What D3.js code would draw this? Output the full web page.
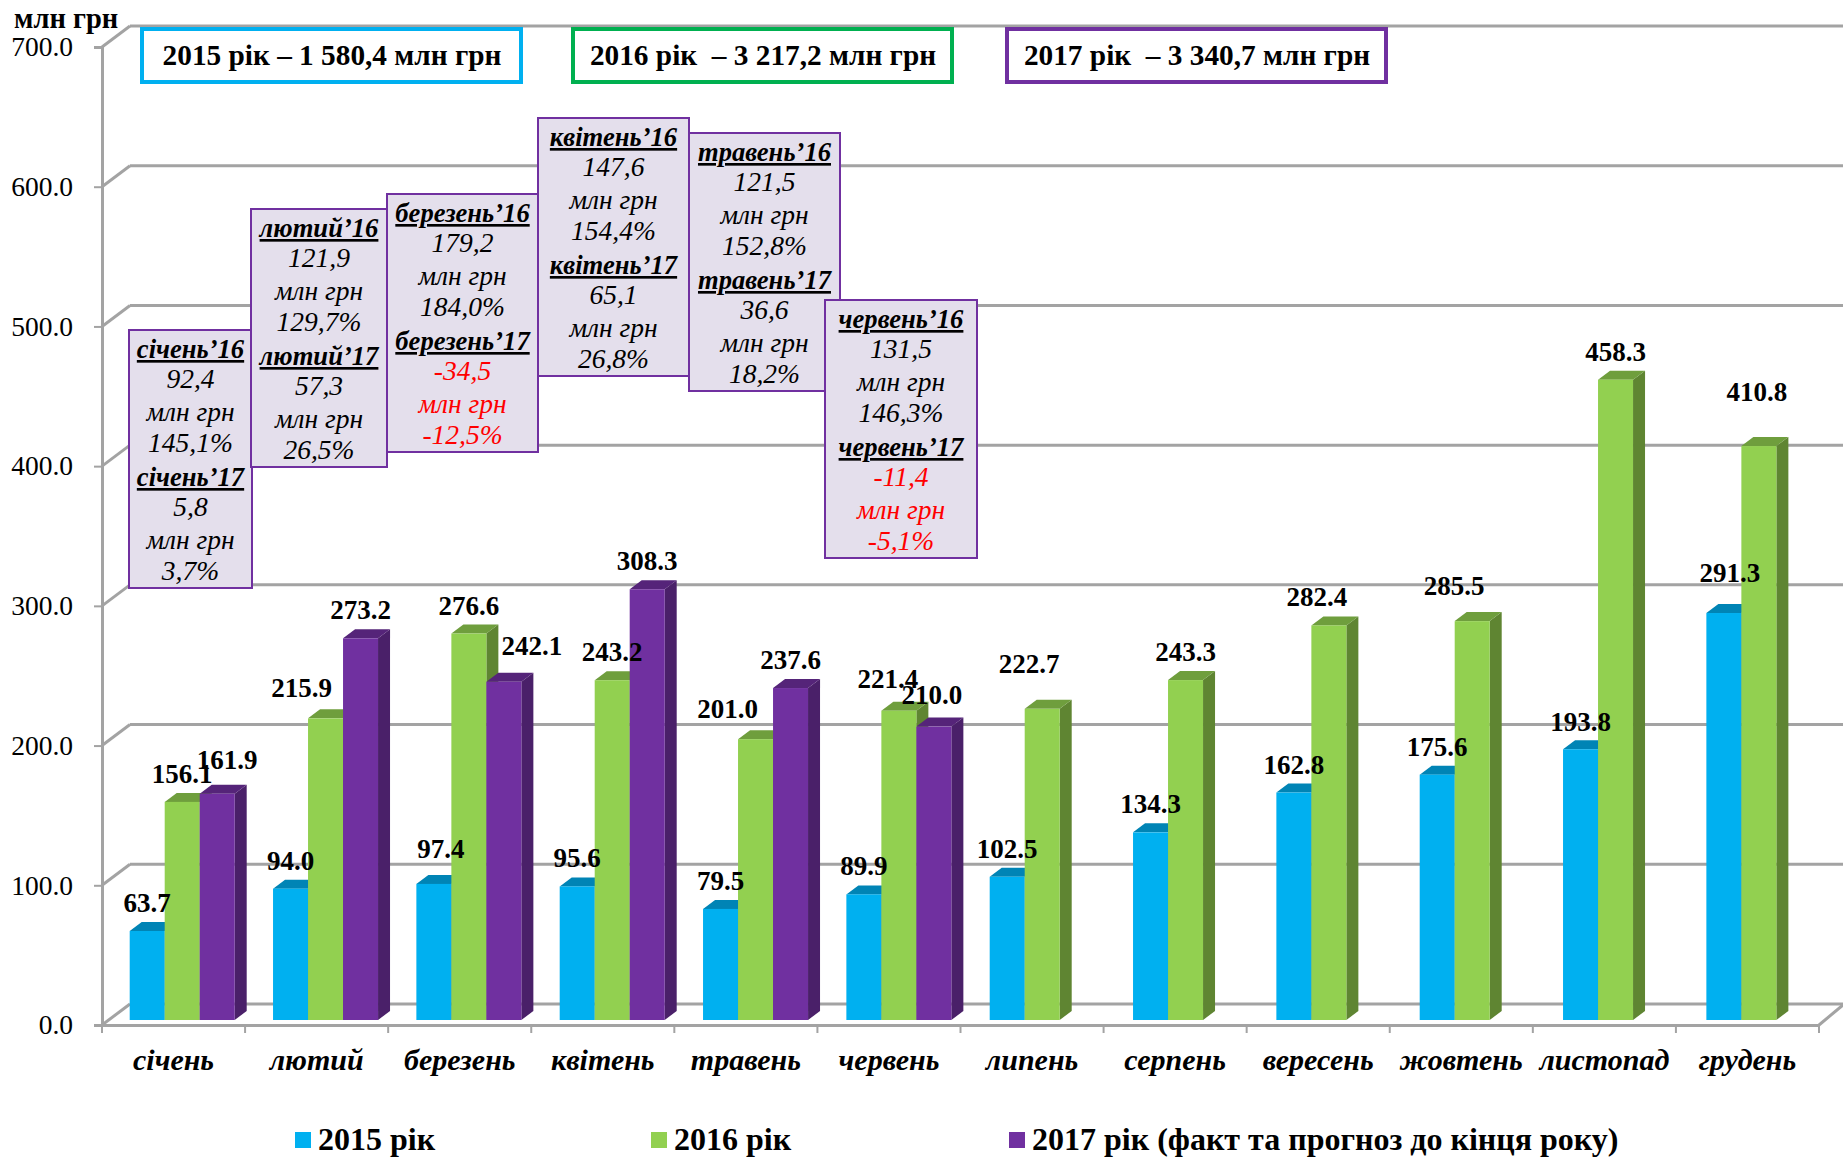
<!DOCTYPE html>
<html>
<head>
<meta charset="utf-8">
<style>
  html, body { margin: 0; background: #fff; }
  svg { display: block; font-family: "Liberation Serif", serif; }
  .grid { stroke: #a3a3a3; stroke-width: 3; fill: none; }
  .axis-label text { fill: #000; }
</style>
<script src="https://cdnjs.cloudflare.com/ajax/libs/d3/7.8.5/d3.min.js"></script>
</head>
<body>
<svg width="1843" height="1157"></svg>
<script>
const months = ['січень', 'лютий', 'березень', 'квітень', 'травень', 'червень', 'липень', 'серпень', 'вересень', 'жовтень', 'листопад', 'грудень'];
const seriesNames = ['2015 рік', '2016 рік', '2017 рік (факт та прогноз до кінця року)'];
const values2015 = [63.7, 94.0, 97.4, 95.6, 79.5, 89.9, 102.5, 134.3, 162.8, 175.6, 193.8, 291.3];
const values2016 = [156.1, 215.9, 276.6, 243.2, 201.0, 221.4, 222.7, 243.3, 282.4, 285.5, 458.3, 410.8];
const values2017 = [161.9, 273.2, 242.1, 308.3, 237.6, 210.0, null, null, null, null, null, null];
const yTicks = [0, 100, 200, 300, 400, 500, 600, 700];
const totals = ['2015 рік – 1 580,4 млн грн', '2016 рік  – 3 217,2 млн грн', '2017 рік  – 3 340,7 млн грн'];
const noteHeads = ['січень', 'лютий', 'березень', 'квітень', 'травень', 'червень'];
const noteAmount16 = ['92,4', '121,9', '179,2', '147,6', '121,5', '131,5'];
const notePct16 = ['145,1%', '129,7%', '184,0%', '154,4%', '152,8%', '146,3%'];
const noteAmount17 = ['5,8', '57,3', '-34,5', '65,1', '36,6', '-11,4'];
const notePct17 = ['3,7%', '26,5%', '-12,5%', '26,8%', '18,2%', '-5,1%'];

const svg = d3.select('svg');

const colors = [
  {front: '#00b0f0', top: '#0084b5', side: '#00698f'},
  {front: '#92d050', top: '#6f9e3d', side: '#5f8532'},
  {front: '#7030a0', top: '#552479', side: '#4a2069'}
];

// the 3d box: back wall sits up and to the right of the front plane
const depth = {x: 28, y: 21};
const barDepth = {x: 12, y: 9};
const barLift = 5;
const left = 102, right = 1819;

const y = d3.scaleLinear().domain([0, 700]).range([1025, 47]);
const x0 = d3.scaleBand().domain(months).range([left, right]);
// bars run on a slightly wider step than the axis ticks
const xBars = d3.scaleBand().domain(months).range([left - 0.3, right + 2.7]);
const x1 = d3.scaleBand().domain(d3.range(3)).range([28, 133]);

// walls
const grid = svg.append('g');
grid.selectAll('line.wall').data(yTicks).join('line')
  .attr('class', 'grid wall')
  .attr('x1', left + depth.x).attr('x2', 1843)
  .attr('y1', d => y(d) - depth.y).attr('y2', d => y(d) - depth.y);
grid.selectAll('line.slant').data(yTicks).join('line')
  .attr('class', 'grid slant')
  .attr('x1', left).attr('x2', left + depth.x)
  .attr('y1', d => y(d)).attr('y2', d => y(d) - depth.y);
grid.append('line').attr('class', 'grid')
  .attr('x1', right).attr('x2', right + 24)
  .attr('y1', y(0)).attr('y2', y(0) - 20);

// axes
const yAxis = d3.axisLeft(y).tickValues(yTicks).tickFormat(d3.format('.1f'))
  .tickSize(8).tickPadding(21);
const yAxisG = svg.append('g')
  .attr('transform', `translate(${left},0)`)
  .call(yAxis);
yAxisG.select('.domain').attr('stroke', '#a3a3a3').attr('stroke-width', 3);
yAxisG.selectAll('.tick line').attr('stroke', '#a3a3a3').attr('stroke-width', 2);
yAxisG.selectAll('text').attr('font-size', 27.5).attr('font-family', '"Liberation Serif", serif').attr('fill', '#000');

const xAxisG = svg.append('g')
  .attr('transform', `translate(0,${y(0)})`)
  .call(d3.axisBottom(x0).tickSize(0).tickPadding(24));
xAxisG.select('.domain').attr('stroke', '#a3a3a3').attr('stroke-width', 3);
xAxisG.selectAll('text')
  .attr('font-size', 30).attr('font-weight', 'bold').attr('font-style', 'italic')
  .attr('font-family', '"Liberation Serif", serif').attr('fill', '#000');
xAxisG.selectAll('line.edge').data(d3.range(13)).join('line')
  .attr('class', 'edge')
  .attr('x1', i => left + i * x0.step()).attr('x2', i => left + i * x0.step())
  .attr('y1', 0).attr('y2', 8)
  .attr('stroke', '#a3a3a3').attr('stroke-width', 2);

// bars
const allValues = [values2015, values2016, values2017];
const points = (x, yy, w, part) => {
  if (part === 'top') {
    return [[x, yy], [x + barDepth.x, yy - barDepth.y], [x + w + barDepth.x, yy - barDepth.y], [x + w, yy]];
  }
  const base = y(0) - barLift;
  return [[x + w, yy], [x + w + barDepth.x, yy - barDepth.y], [x + w + barDepth.x, base - barDepth.y], [x + w, base]];
};

const barsG = svg.append('g');
months.forEach((m, mi) => {
  const groupG = barsG.append('g').attr('transform', `translate(${xBars(m)},0)`);
  const row = allValues.map((vals, si) => ({si, v: vals[mi]})).filter(d => d.v !== null);
  row.forEach(d => {
    const bx = x1(d.si), bw = x1.bandwidth(), by = y(d.v) - barLift;
    const c = colors[d.si];
    groupG.append('polygon').attr('points', points(bx, by, bw, 'side').join(' ')).attr('fill', c.side);
    groupG.append('polygon').attr('points', points(bx, by, bw, 'top').join(' ')).attr('fill', c.top);
    groupG.append('rect')
      .attr('x', bx).attr('y', by)
      .attr('width', bw).attr('height', y(0) - barLift - by)
      .attr('fill', c.front);
  });
});

// total boxes
const totalBoxX = [142, 573, 1007];
const totalBoxColor = ['#00b0f0', '#00b050', '#7030a0'];
const totalsG = svg.selectAll('g.total').data(totals).join('g')
  .attr('class', 'total')
  .attr('transform', (d, i) => `translate(${totalBoxX[i]},29)`);
totalsG.append('rect')
  .attr('width', 379).attr('height', 53)
  .attr('fill', '#fff').attr('stroke-width', 4)
  .attr('stroke', (d, i) => totalBoxColor[i]);
totalsG.append('text')
  .attr('x', 190).attr('y', 36)
  .attr('text-anchor', 'middle')
  .attr('font-size', 29.3).attr('font-weight', 'bold')
  .attr('xml:space', 'preserve').style('white-space', 'pre')
  .text(d => d);

// purple notes over the chart
const noteBoxes = [[129, 330, 123], [251, 209, 136], [387, 194, 151], [538, 118, 151], [689, 133, 151], [825, 300, 152]];
const noteBoxH = 258;
const lineOffsets = [28, 58, 91, 122, 156, 186, 219, 250];
const noteRed = '#ff0000';
noteHeads.forEach((head, i) => {
  const [bx, by, bw] = noteBoxes[i];
  const g = svg.append('g').attr('transform', `translate(${bx},${by})`);
  g.append('rect').attr('width', bw).attr('height', noteBoxH)
    .attr('fill', '#e4dfec').attr('stroke', '#7030a0').attr('stroke-width', 2);
  const neg = noteAmount17[i][0] === '-';
  const lines = [
    {t: head + '’16', h: true}, {t: noteAmount16[i]}, {t: 'млн грн'}, {t: notePct16[i]},
    {t: head + '’17', h: true}, {t: noteAmount17[i], red: neg}, {t: 'млн грн', red: neg}, {t: notePct17[i], red: neg}
  ];
  g.selectAll('text').data(lines).join('text')
    .attr('x', bw / 2).attr('y', (d, k) => lineOffsets[k])
    .attr('text-anchor', 'middle')
    .attr('font-style', 'italic')
    .attr('font-size', d => d.h ? 26.6 : 27.5)
    .attr('font-weight', d => d.h ? 'bold' : 'normal')
    .attr('text-decoration', d => d.h ? 'underline' : 'none')
    .attr('fill', d => d.red ? noteRed : '#000')
    .text(d => d.t);
});

// data labels, some were dragged by hand in the original
const labelNudge = {
  '0-2': [10, -6], '1-1': [-24, -2], '2-0': [7, -7], '2-2': [28, -8], '4-1': [-28, -2],
  '5-1': [-11, -4], '5-2': [-2, -4], '6-1': [-13, -17], '8-1': [-12, 0], '9-1': [-18, -7],
  '10-0': [0, 1], '11-0': [6, -12], '11-1': [-2, -26]
};
const labelsG = svg.append('g');
allValues.forEach((vals, si) => {
  vals.forEach((v, mi) => {
    if (v === null) return;
    const n = labelNudge[mi + '-' + si] || [0, 0];
    labelsG.append('text')
      .attr('x', xBars(months[mi]) + x1(si) + x1.bandwidth() / 2 + n[0])
      .attr('y', y(v) - barLift - 19 + n[1])
      .attr('text-anchor', 'middle')
      .attr('font-size', 27).attr('font-weight', 'bold')
      .text(d3.format('.1f')(v));
  });
});

// legend and unit label
const legendX = [295, 651, 1009];
const legend = svg.selectAll('g.legend').data(seriesNames).join('g')
  .attr('class', 'legend')
  .attr('transform', (d, i) => `translate(${legendX[i]},1132)`);
legend.append('rect').attr('width', 16).attr('height', 16)
  .attr('fill', (d, i) => colors[i].front);
legend.append('text')
  .attr('x', 23).attr('y', 18)
  .attr('font-size', 32).attr('font-weight', 'bold')
  .text(d => d);

svg.append('text')
  .attr('x', 14).attr('y', 28)
  .attr('font-size', 28.5).attr('font-weight', 'bold')
  .text('млн грн');
</script>
</body>
</html>
